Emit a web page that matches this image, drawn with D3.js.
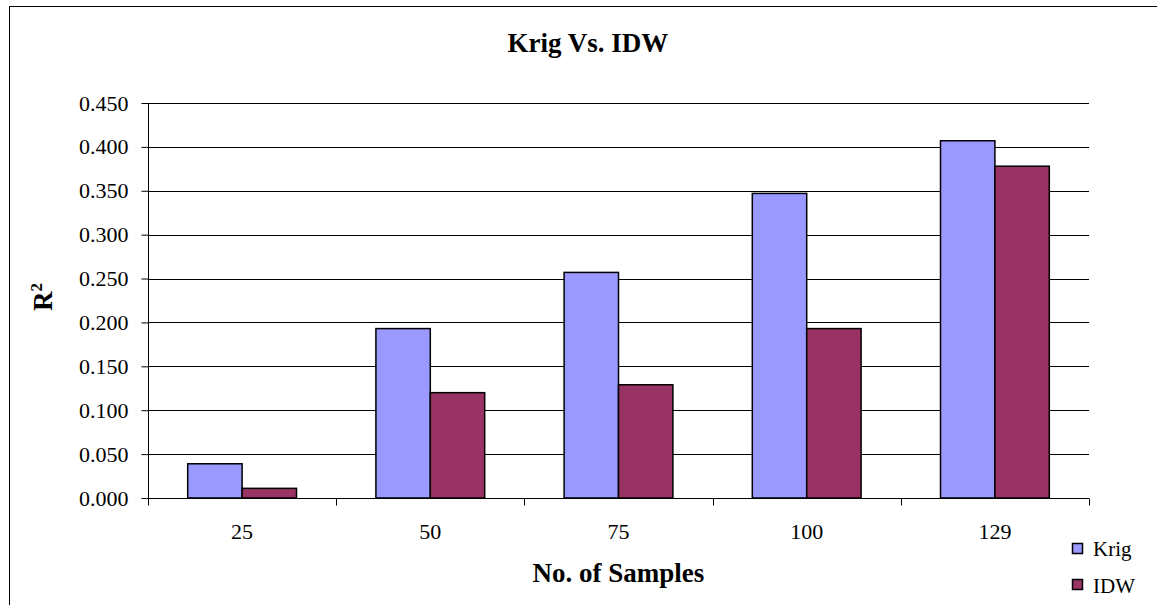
<!DOCTYPE html>
<html><head><meta charset="utf-8">
<script src="https://cdn.jsdelivr.net/npm/d3@7"></script>
<style>body{margin:0;background:#fff}svg{display:block}</style>
</head><body><svg id="c" width="1157" height="605"></svg>
<script>
const categories = ["25", "50", "75", "100", "129"];
const seriesNames = ["Krig", "IDW"];
const krig = [0.039, 0.193, 0.257, 0.347, 0.407];
const idw = [0.011, 0.120, 0.129, 0.193, 0.378];
const yTicks = [0, 0.05, 0.1, 0.15, 0.2, 0.25, 0.3, 0.35, 0.4, 0.45];
const colors = ["#9999FF", "#993366"];

const svg = d3.select("#c");
const font = "'Liberation Serif', 'Times New Roman', serif";
const L = 148, R = 1089, T = 103, B = 498;

svg.append("rect").attr("x", 9.5).attr("y", 6.5).attr("width", 1160).attr("height", 620)
  .attr("fill", "#fff").attr("stroke", "#000").attr("stroke-width", 1);

const x = d3.scaleBand().domain(categories).range([L, R]);
const xs = d3.scaleBand().domain(seriesNames).range([0, x.bandwidth()]).paddingInner(0).paddingOuter(0.73);
const y = d3.scaleLinear().domain([0, 0.45]).range([B, T]);

// gridlines
svg.append("g").selectAll("line").data(yTicks.filter(d => d > 0)).join("line")
  .attr("x1", L).attr("x2", R).attr("y1", d => Math.round(y(d)) + 0.5).attr("y2", d => Math.round(y(d)) + 0.5)
  .attr("stroke", "#000").attr("stroke-width", 1);

const data = [krig, idw];
const g = svg.append("g");
categories.forEach((c, i) => {
  seriesNames.forEach((s, j) => {
    g.append("rect")
      .attr("x", x(c) + xs(s))
      .attr("y", y(data[j][i]))
      .attr("width", xs.bandwidth())
      .attr("height", B - y(data[j][i]))
      .attr("fill", colors[j]).attr("stroke", "#000").attr("stroke-width", 1.5);
  });
});

// y axis
const yAxis = d3.axisLeft(y).tickValues(yTicks).tickFormat(d3.format(".3f")).tickSize(7).tickPadding(13);
const ya = svg.append("g").attr("transform", `translate(${L + 0.5},0)`).call(yAxis);
ya.select(".domain").attr("d", `M0,${T}V${B + 7}`).attr("stroke", "#000");
ya.selectAll("text").attr("font-family", font).attr("font-size", 22).attr("fill", "#000");

// x axis
const xa = svg.append("g").attr("transform", `translate(0,${B + 0.5})`);
xa.append("line").attr("x1", L).attr("x2", R).attr("stroke", "#000");
const edges = categories.map(c => x(c)).concat([R]);
xa.selectAll("line.t").data(edges).join("line").attr("class", "t")
  .attr("x1", d => Math.round(d) + 0.5).attr("x2", d => Math.round(d) + 0.5).attr("y1", 0).attr("y2", 7).attr("stroke", "#000");
xa.selectAll("text").data(categories).join("text")
  .attr("x", d => x(d) + x.bandwidth() / 2).attr("y", 40.5).attr("text-anchor", "middle")
  .attr("font-family", font).attr("font-size", 22).text(d => d);

// title
svg.append("text").attr("x", 588).attr("y", 52).attr("text-anchor", "middle")
  .attr("font-family", font).attr("font-weight", "bold").attr("font-size", 27).text("Krig Vs. IDW");
svg.append("text").attr("x", (L + R) / 2).attr("y", 582).attr("text-anchor", "middle")
  .attr("font-family", font).attr("font-weight", "bold").attr("font-size", 27).text("No. of Samples");
const yt = svg.append("text").attr("transform", `translate(52,297) rotate(-90)`).attr("text-anchor", "middle")
  .attr("font-family", font).attr("font-weight", "bold").attr("font-size", 27);
yt.append("tspan").text("R");
yt.append("tspan").attr("dy", -10).attr("font-size", 17).text("2");

// legend
const lg = svg.append("g");
seriesNames.forEach((s, j) => {
  lg.append("rect").attr("x", 1072.5).attr("y", 543.5 + j * 36).attr("width", 10).attr("height", 10)
    .attr("fill", colors[j]).attr("stroke", "#000").attr("stroke-width", 1.5);
  lg.append("text").attr("x", 1093).attr("y", 556 + j * 36.5).attr("font-family", font).attr("font-size", 21).text(s);
});
</script></body></html>
